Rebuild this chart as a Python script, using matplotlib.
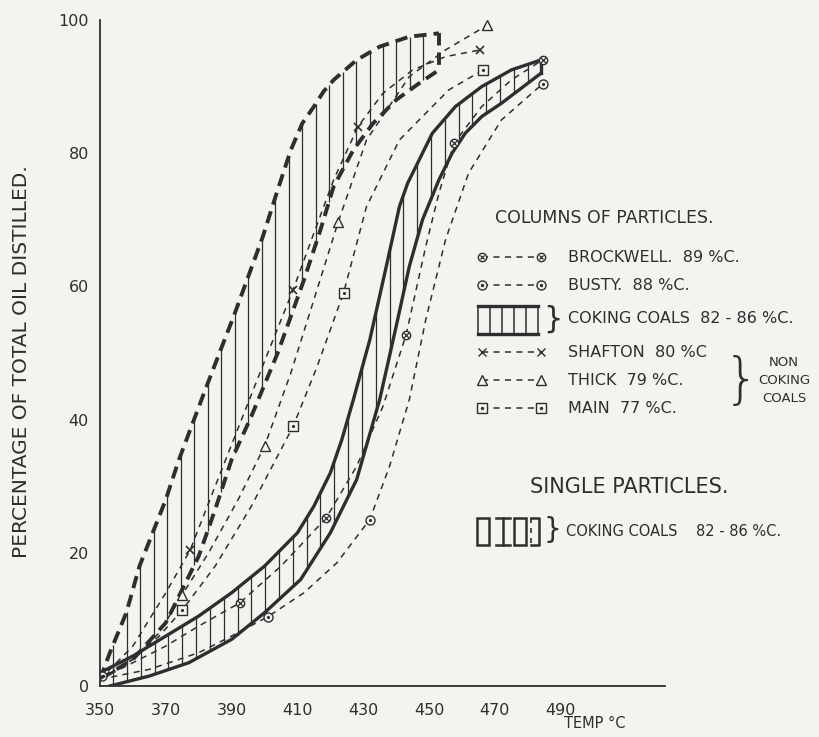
import numpy as np
import matplotlib.pyplot as plt
from matplotlib.patches import Rectangle

plt.rcParams['font.family'] = ['DejaVu Sans']

# ---- data (temp in deg C, percent of oil distilled) ----
x_ticks = [350, 370, 390, 410, 430, 450, 470, 490]
y_ticks = [0, 20, 40, 60, 80, 100]

# columns of particles, coking coals 82-86 % C (solid band)
col_up_T = [350, 360, 370, 380, 390, 400, 410, 415, 420, 423.5, 427, 429.5, 432, 434.5, 437,
            439, 441, 443.5, 446, 448.5, 451, 458, 466, 475, 484]
col_up_P = [2, 4.5, 7.5, 10.5, 14, 18, 23, 27, 32, 37, 43, 47.5, 52, 57.5, 63,
            67.5, 72, 75.5, 78, 80.5, 83, 87, 90, 92.5, 94]
col_lo_T = [353, 365, 377, 390, 400, 411, 420, 424, 428, 431.5, 435, 437.5, 440, 442, 444,
            446, 448, 450.5, 453, 457, 461, 466, 472, 484]
col_lo_P = [0, 1.5, 3.5, 7, 11, 16, 23, 27, 31, 37, 43, 48.5, 54, 58.5, 63,
            66.5, 70, 73, 76, 80, 83, 85.5, 87.5, 92]

# single particles, coking coals 82-86 % C (heavy dashed band)
sgl_up_T = [350, 353, 358, 362, 366, 370, 374, 382, 391, 399.5, 404, 408, 411.5, 415, 418,
            421, 428, 435, 444, 453]
sgl_up_P = [1, 5, 11, 18, 23, 28, 34, 44.5, 56, 67.5, 74.5, 80.5, 84.5, 87, 89.3,
            91, 94, 96, 97.5, 98]
sgl_lo_T = [350, 360, 370, 380, 385, 390, 396, 404, 412, 417, 421, 427, 433, 440, 447, 453]
sgl_lo_P = [1, 4, 9.5, 19.5, 26.5, 34, 40.5, 50, 61, 68.5, 75, 80.5, 84.5, 88, 90.5, 92.5]

# single coal curves (columns of particles)
brock_T = [350, 360, 370, 380, 392.5, 405, 418.7, 428, 436, 443, 449, 453, 457.6, 466, 475, 484.5]
brock_P = [1, 3.5, 6, 9, 12.5, 18, 25.2, 33, 42, 52.7, 66, 74, 81.5, 87, 91, 94]
brock_mT = [392.5, 418.7, 443, 457.6, 484.5]
brock_mP = [12.5, 25.2, 52.7, 81.5, 94]

busty_T = [350, 365, 380, 390, 401, 412, 422, 432, 438, 444, 449, 455, 462, 472, 484.5]
busty_P = [1, 2.5, 5, 7.5, 10.4, 14, 18.5, 25, 33, 43, 55, 67, 77, 85, 90.4]
busty_mT = [350.5, 401, 432, 484.5]
busty_mP = [1.5, 10.4, 25, 90.4]

shaft_T = [350, 360, 370, 377.4, 385, 393, 401, 408.7, 415, 421, 428.4, 436, 445, 455, 465.5]
shaft_P = [1, 6, 14, 20.4, 30, 40, 50, 59.5, 68, 76, 84, 89, 92.5, 94.5, 95.5]
shaft_mT = [377.4, 408.7, 428.4, 465.5]
shaft_mP = [20.4, 59.5, 84, 95.5]

thick_T = [350, 360, 368, 375, 383, 392, 400, 408, 415, 422.4, 431, 444, 455, 467.6]
thick_P = [1, 4, 8, 13.7, 20, 28, 36, 47, 58, 69.7, 82, 91.5, 95.5, 99.2]
thick_mT = [375, 400, 422.4, 467.6]
thick_mP = [13.7, 36, 69.7, 99.2]

main_T = [350, 360, 368, 375, 385, 396, 408.7, 416, 424, 431, 441, 456, 466.4]
main_P = [1, 4, 7.5, 11.4, 18, 27, 39, 48, 59, 72, 82, 89.5, 92.5]
main_mT = [375, 408.7, 424, 466.4]
main_mP = [11.4, 39, 59, 92.5]

INK = '#2e2e2e'
PAPER = '#f3f3f0'
THIN = dict(color=INK, lw=1.1, dashes=(4, 3.5))

fig = plt.figure(figsize=(8.2, 7.37), dpi=100, facecolor=PAPER)
ax = fig.add_axes([100 / 820, 51 / 737, 565 / 820, 666 / 737])
ax.set_facecolor('none')
ax.set_xlim(350, 521.7)
ax.set_ylim(0, 100)
for s in ['top', 'right']:
    ax.spines[s].set_visible(False)
for s in ['left', 'bottom']:
    ax.spines[s].set_color(INK)
    ax.spines[s].set_linewidth(1.3)
ax.set_xticks(x_ticks)
ax.set_xticklabels([str(t) for t in x_ticks])
ax.set_yticks(y_ticks)
ax.set_yticklabels([str(t) for t in y_ticks])
ax.tick_params(length=0, labelsize=11.5, colors=INK)
ax.tick_params(axis='x', pad=12)
ax.tick_params(axis='y', pad=8)

# columns band: solid outline + vertical hatching
ax.plot(col_up_T, col_up_P, color=INK, lw=2.4)
ax.plot(col_lo_T, col_lo_P, color=INK, lw=2.4)
ax.plot([col_up_T[-1], col_lo_T[-1]], [col_up_P[-1], col_lo_P[-1]], color=INK, lw=2.4)
hx = np.arange(354, 484, 4.2)
ax.vlines(hx, np.interp(hx, col_lo_T, col_lo_P), np.interp(hx, col_up_T, col_up_P),
          color=INK, lw=0.9)

# single particles band: heavy dashed outline + hatching
heavy = dict(color=INK, lw=2.8, dashes=(3.2, 1.8))
ax.plot(sgl_up_T, sgl_up_P, **heavy)
ax.plot(sgl_lo_T, sgl_lo_P, **heavy)
ax.plot([sgl_up_T[-1], sgl_lo_T[-1]], [sgl_up_P[-1], sgl_lo_P[-1]], **heavy)
sx = np.arange(354, 452, 4.1)
ax.vlines(sx, np.interp(sx, sgl_lo_T, sgl_lo_P), np.interp(sx, sgl_up_T, sgl_up_P),
          color=INK, lw=0.9)

# individual coals
ax.plot(brock_T, brock_P, **THIN)
ax.plot(brock_mT, brock_mP, 'o', ms=6, mfc=PAPER, mec=INK, mew=1.0)
ax.plot(brock_mT, brock_mP, 'x', ms=4, mec=INK, mew=0.9)

ax.plot(busty_T, busty_P, **THIN)
ax.plot(busty_mT, busty_mP, 'o', ms=6.5, mfc=PAPER, mec=INK, mew=1.0)
ax.plot(busty_mT, busty_mP, '.', ms=2.5, color=INK)

ax.plot(shaft_T, shaft_P, **THIN)
ax.plot(shaft_mT, shaft_mP, 'x', ms=6, mec=INK, mew=1.2)

ax.plot(thick_T, thick_P, **THIN)
ax.plot(thick_mT, thick_mP, '^', ms=7, mfc=PAPER, mec=INK, mew=1.0)

ax.plot(main_T, main_P, **THIN)
ax.plot(main_mT, main_mP, 's', ms=6.5, mfc=PAPER, mec=INK, mew=1.0)
ax.plot(main_mT, main_mP, '.', ms=2.5, color=INK)

# overlay in pixel units for the hand-lettered key and labels
ov = fig.add_axes([0, 0, 1, 1])
ov.set_xlim(0, 820)
ov.set_ylim(737, 0)
ov.axis('off')
ov.patch.set_alpha(0)

ov.text(22, 362, 'PERCENTAGE OF TOTAL OIL DISTILLED.', rotation=90, ha='center',
        va='center', fontsize=14.5, color=INK)
ov.text(595, 724, 'TEMP °C', ha='center', va='center', fontsize=10.5, color=INK)

ov.text(495, 218, 'COLUMNS OF PARTICLES.', ha='left', va='center', fontsize=12.5, color=INK)
rows = [(257, 'BROCKWELL.  89 %C.'), (285, 'BUSTY.  88 %C.'),
        (318, 'COKING COALS  82 - 86 %C.'), (352, 'SHAFTON  80 %C'),
        (380, 'THICK  79 %C.'), (408, 'MAIN  77 %C.')]
for y, label in rows:
    ov.text(568, y, label, ha='left', va='center', fontsize=11.5, color=INK)

def key_line(y, marker, ms, extra=None):
    ov.plot([482, 541], [y, y], **THIN)
    ov.plot([482, 541], [y, y], marker, ms=ms, mfc=PAPER, mec=INK, mew=1.0, ls='none')
    if extra:
        ov.plot([482, 541], [y, y], extra, ms=3, mec=INK, color=INK, mew=0.9, ls='none')

key_line(257, 'o', 6, 'x')
key_line(285, 'o', 6.5, '.')
key_line(352, 'x', 6)
key_line(380, '^', 7)
key_line(408, 's', 6.5, '.')

# coking coals box symbol
ov.plot([478, 538], [306, 306], color=INK, lw=2.4)
ov.plot([478, 538], [334, 334], color=INK, lw=2.4)
ov.vlines([478, 490, 502, 514, 526, 538], 306, 334, color=INK, lw=1.1)
ov.text(543, 319, '}', ha='left', va='center', fontsize=22, color=INK)

# non coking coals brace
ov.text(724, 382, '}', ha='left', va='center', fontsize=40, color=INK, fontweight='light')
ov.text(784, 380, 'NON\nCOKING\nCOALS', ha='center', va='center', fontsize=9.5,
        color=INK, linespacing=1.5)

# single particles key
ov.text(530, 487, 'SINGLE PARTICLES.', ha='left', va='center', fontsize=15, color=INK)
ov.add_patch(Rectangle((477, 518), 12, 27, fill=False, ec=INK, lw=1.8))
ov.plot([503, 503], [518, 545], color=INK, lw=1.8)
ov.plot([496, 510], [518, 518], color=INK, lw=1.8)
ov.plot([496, 510], [545, 545], color=INK, lw=1.8)
ov.add_patch(Rectangle((514, 518), 12, 27, fill=False, ec=INK, lw=1.8))
ov.plot([531, 539, 539, 531], [518, 518, 545, 545], color=INK, lw=1.8)
ov.plot([531, 531], [518, 545], color=INK, lw=1.2, dashes=(3, 3))
ov.text(544, 530, '}', ha='left', va='center', fontsize=20, color=INK)
ov.text(566, 531, 'COKING COALS    82 - 86 %C.', ha='left', va='center', fontsize=10.5,
        color=INK)

fig.savefig('out.png', dpi=100, facecolor=PAPER)
